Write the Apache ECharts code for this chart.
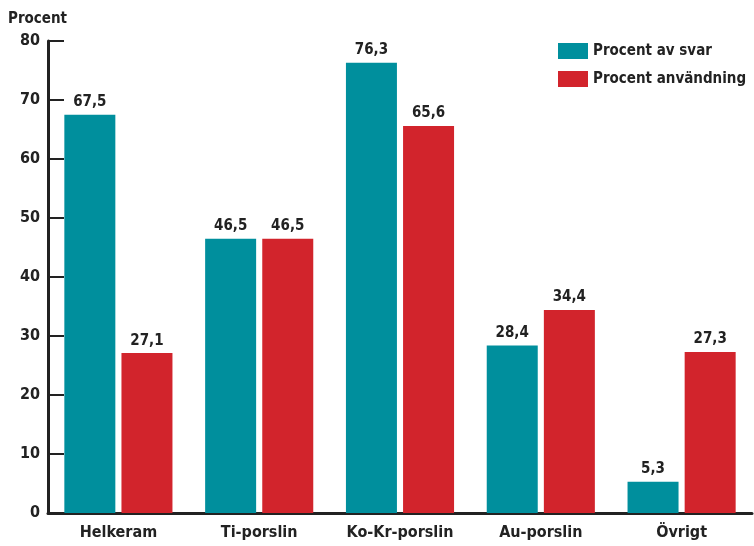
<!DOCTYPE html>
<html>
<head>
    <meta charset="UTF-8">
    <title>Procent</title>
    <script src="https://cdn.jsdelivr.net/npm/echarts@6/dist/echarts.min.js"></script>
    <style>
        html, body { margin: 0; padding: 0; background: #fff; }
        #chart { width: 754px; height: 546px; }
    </style>
</head>
<body>
<div id="chart"></div>
<script>
// data
var categories = ['Helkeram', 'Ti-porslin', 'Ko-Kr-porslin', 'Au-porslin', 'Övrigt'];
var svar = [67.5, 46.5, 76.3, 28.4, 5.3];
var anvandning = [27.1, 46.5, 65.6, 34.4, 27.3];
var seriesNames = ['Procent av svar', 'Procent användning'];

var font = 'DejaVu Sans Condensed';
var ink = '#222';

function komma(p) {
    return p.value.toFixed(1).replace('.', ',');
}

var myChart = echarts.init(document.getElementById('chart'));

var option = {
    animation: false,
    title: {
        text: 'Procent',
        left: 3, top: 7,
        textStyle: { fontFamily: font, fontSize: 15, fontWeight: 'bold', color: ink }
    },
    legend: {
        data: seriesNames,
        orient: 'vertical',
        left: 553, top: 38,
        itemWidth: 30, itemHeight: 16, itemGap: 12,
        icon: 'rect',
        textStyle: { fontFamily: font, fontSize: 15, fontWeight: 'bold', color: ink }
    },
    grid: { left: 48, right: 2, top: 41, bottom: 33, containLabel: false },
    xAxis: {
        type: 'category',
        data: categories,
        axisLine: { lineStyle: { color: ink, width: 3 } },
        axisTick: { inside: true, length: 12, lineStyle: { color: ink, width: 2 } },
        axisLabel: { margin: 12, fontFamily: font, fontSize: 16, fontWeight: 'bold', color: ink }
    },
    yAxis: {
        type: 'value',
        min: 0, max: 80, interval: 10,
        axisLine: { show: true, lineStyle: { color: ink, width: 3 } },
        axisTick: { show: true, inside: true, length: 16, lineStyle: { color: ink, width: 2 } },
        splitLine: { show: false },
        axisLabel: { margin: 8, fontFamily: font, fontSize: 16, fontWeight: 'bold', color: ink }
    },
    series: [{
        name: seriesNames[0],
        type: 'bar',
        data: svar,
        barWidth: 51,
        barGap: '12%',
        itemStyle: { color: '#008f9d' },
        label: { show: true, position: 'top', distance: 5, formatter: komma,
                 fontFamily: font, fontSize: 15, fontWeight: 'bold', color: ink }
    }, {
        name: seriesNames[1],
        type: 'bar',
        data: anvandning,
        barWidth: 51,
        barGap: '12%',
        itemStyle: { color: '#d2242c' },
        label: { show: true, position: 'top', distance: 5, formatter: komma,
                 fontFamily: font, fontSize: 15, fontWeight: 'bold', color: ink }
    }]
};

myChart.setOption(option);
</script>
</body>
</html>
